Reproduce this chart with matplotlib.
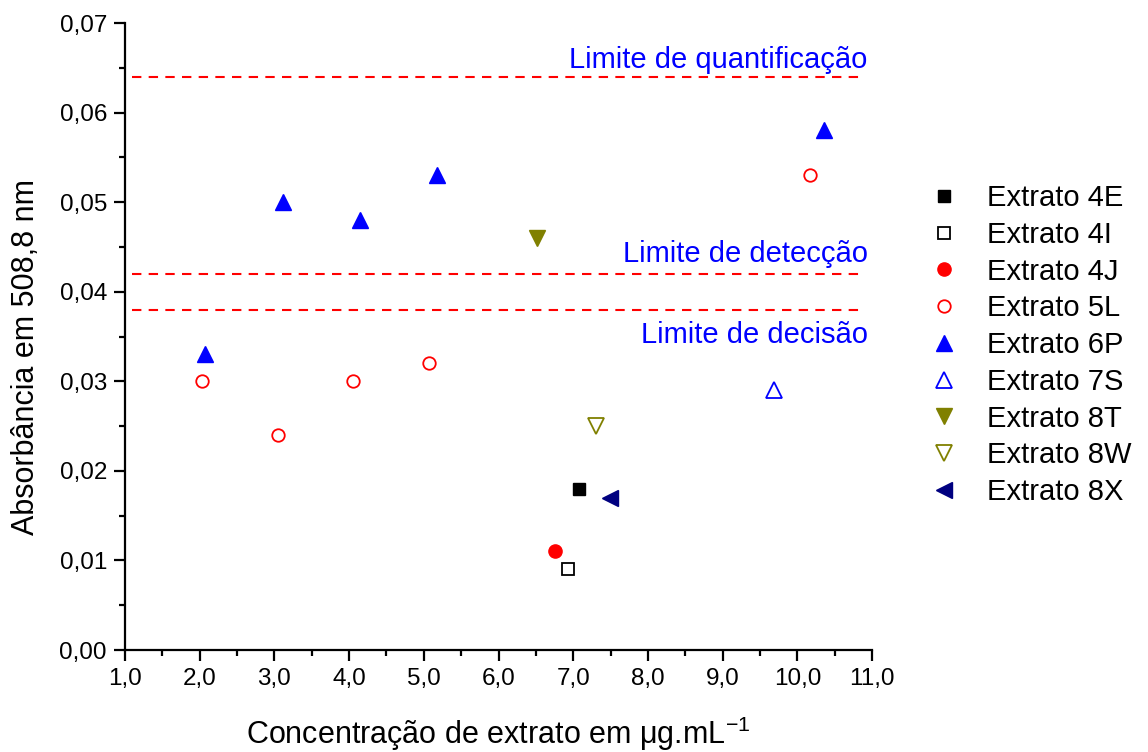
import matplotlib.pyplot as plt
from matplotlib.ticker import MultipleLocator, FuncFormatter

plt.rcParams['font.family'] = ['Liberation Sans', 'DejaVu Sans']
plt.rcParams['mathtext.fontset'] = 'custom'
plt.rcParams['mathtext.rm'] = 'Liberation Sans'
plt.rcParams['mathtext.it'] = 'Liberation Sans'

# concentration (ug/mL) and absorbance for each extract
x_4E, y_4E = [7.08], [0.018]
x_4I, y_4I = [6.93], [0.009]
x_4J, y_4J = [6.76], [0.011]
x_5L = [2.03, 3.05, 4.05, 5.07, 10.17]
y_5L = [0.030, 0.024, 0.030, 0.032, 0.053]
x_6P = [2.07, 3.11, 4.14, 5.18, 10.36]
y_6P = [0.033, 0.050, 0.048, 0.053, 0.058]
x_7S, y_7S = [9.69], [0.029]
x_8T, y_8T = [6.52], [0.046]
x_8W, y_8W = [7.31], [0.025]
x_8X, y_8X = [7.49], [0.017]

# method limits
limits = [0.064, 0.042, 0.038]
limit_names = ['Limite de quantificação', 'Limite de detecção', 'Limite de decisão']

fig = plt.figure(figsize=(11.48, 7.52), dpi=100)
ax = fig.add_axes([0.1089, 0.1356, 0.6507, 0.8338])

ax.plot(x_4E, y_4E, 's', ms=9, color='black', label='Extrato 4E')
ax.plot(x_4I, y_4I, 's', ms=8.5, mfc='white', mec='black', mew=1.3, label='Extrato 4I')
ax.plot(x_4J, y_4J, 'o', ms=9.5, color='#ff0000', label='Extrato 4J')
ax.plot(x_5L, y_5L, 'o', ms=9, mfc='white', mec='#ff0000', mew=1.3, label='Extrato 5L')
ax.plot(x_6P, y_6P, '^', ms=11.5, color='#0000ff', label='Extrato 6P')
ax.plot(x_7S, y_7S, '^', ms=11.5, mfc='white', mec='#0000ff', mew=1.3, label='Extrato 7S')
ax.plot(x_8T, y_8T, 'v', ms=11.5, color='#808000', label='Extrato 8T')
ax.plot(x_8W, y_8W, 'v', ms=11.5, mfc='white', mec='#808000', mew=1.3, label='Extrato 8W')
ax.plot(x_8X, y_8X, '<', ms=11.5, color='#000080', label='Extrato 8X')

ax.hlines(limits, 1.1, 10.9, colors='#ff0000', linestyles=(0, (4.5, 3.5)), lw=1.5)
ax.text(10.94, 0.0650, limit_names[0], color='#0000ff', fontsize=21, ha='right', va='baseline')
ax.text(10.94, 0.0433, limit_names[1], color='#0000ff', fontsize=21, ha='right', va='baseline')
ax.text(10.94, 0.0343, limit_names[2], color='#0000ff', fontsize=21, ha='right', va='baseline')

ax.set_xlim(1, 11)
ax.set_ylim(0, 0.07)
ax.xaxis.set_major_locator(MultipleLocator(1))
ax.xaxis.set_minor_locator(MultipleLocator(0.5))
ax.yaxis.set_major_locator(MultipleLocator(0.01))
ax.yaxis.set_minor_locator(MultipleLocator(0.005))
ax.xaxis.set_major_formatter(FuncFormatter(lambda v, p: f'{v:.1f}'.replace('.', ',')))
ax.yaxis.set_major_formatter(FuncFormatter(lambda v, p: f'{v:.2f}'.replace('.', ',')))

for side in ['top', 'right']:
    ax.spines[side].set_visible(False)
for side in ['left', 'bottom']:
    ax.spines[side].set_linewidth(1.6)
ax.tick_params(which='major', direction='out', length=8, width=1.6, labelsize=17.5, pad=5)
ax.tick_params(which='minor', direction='out', length=4, width=1.6)

ax.set_xlabel('Concentração de extrato em μg.mL$^{-1}$', fontsize=22)
ax.set_ylabel('Absorbância em 508,8 nm', fontsize=22)
ax.xaxis.set_label_coords(0.5, -0.103)
ax.yaxis.set_label_coords(-0.113, 0.467)

fig.legend(loc='upper left', bbox_to_anchor=(0.8095, 0.7553), bbox_transform=fig.transFigure,
           frameon=False, fontsize=21, handlelength=1.0, handletextpad=0.98,
           labelspacing=0.30, borderpad=0, borderaxespad=0)

fig.savefig('out.png', dpi=100)
